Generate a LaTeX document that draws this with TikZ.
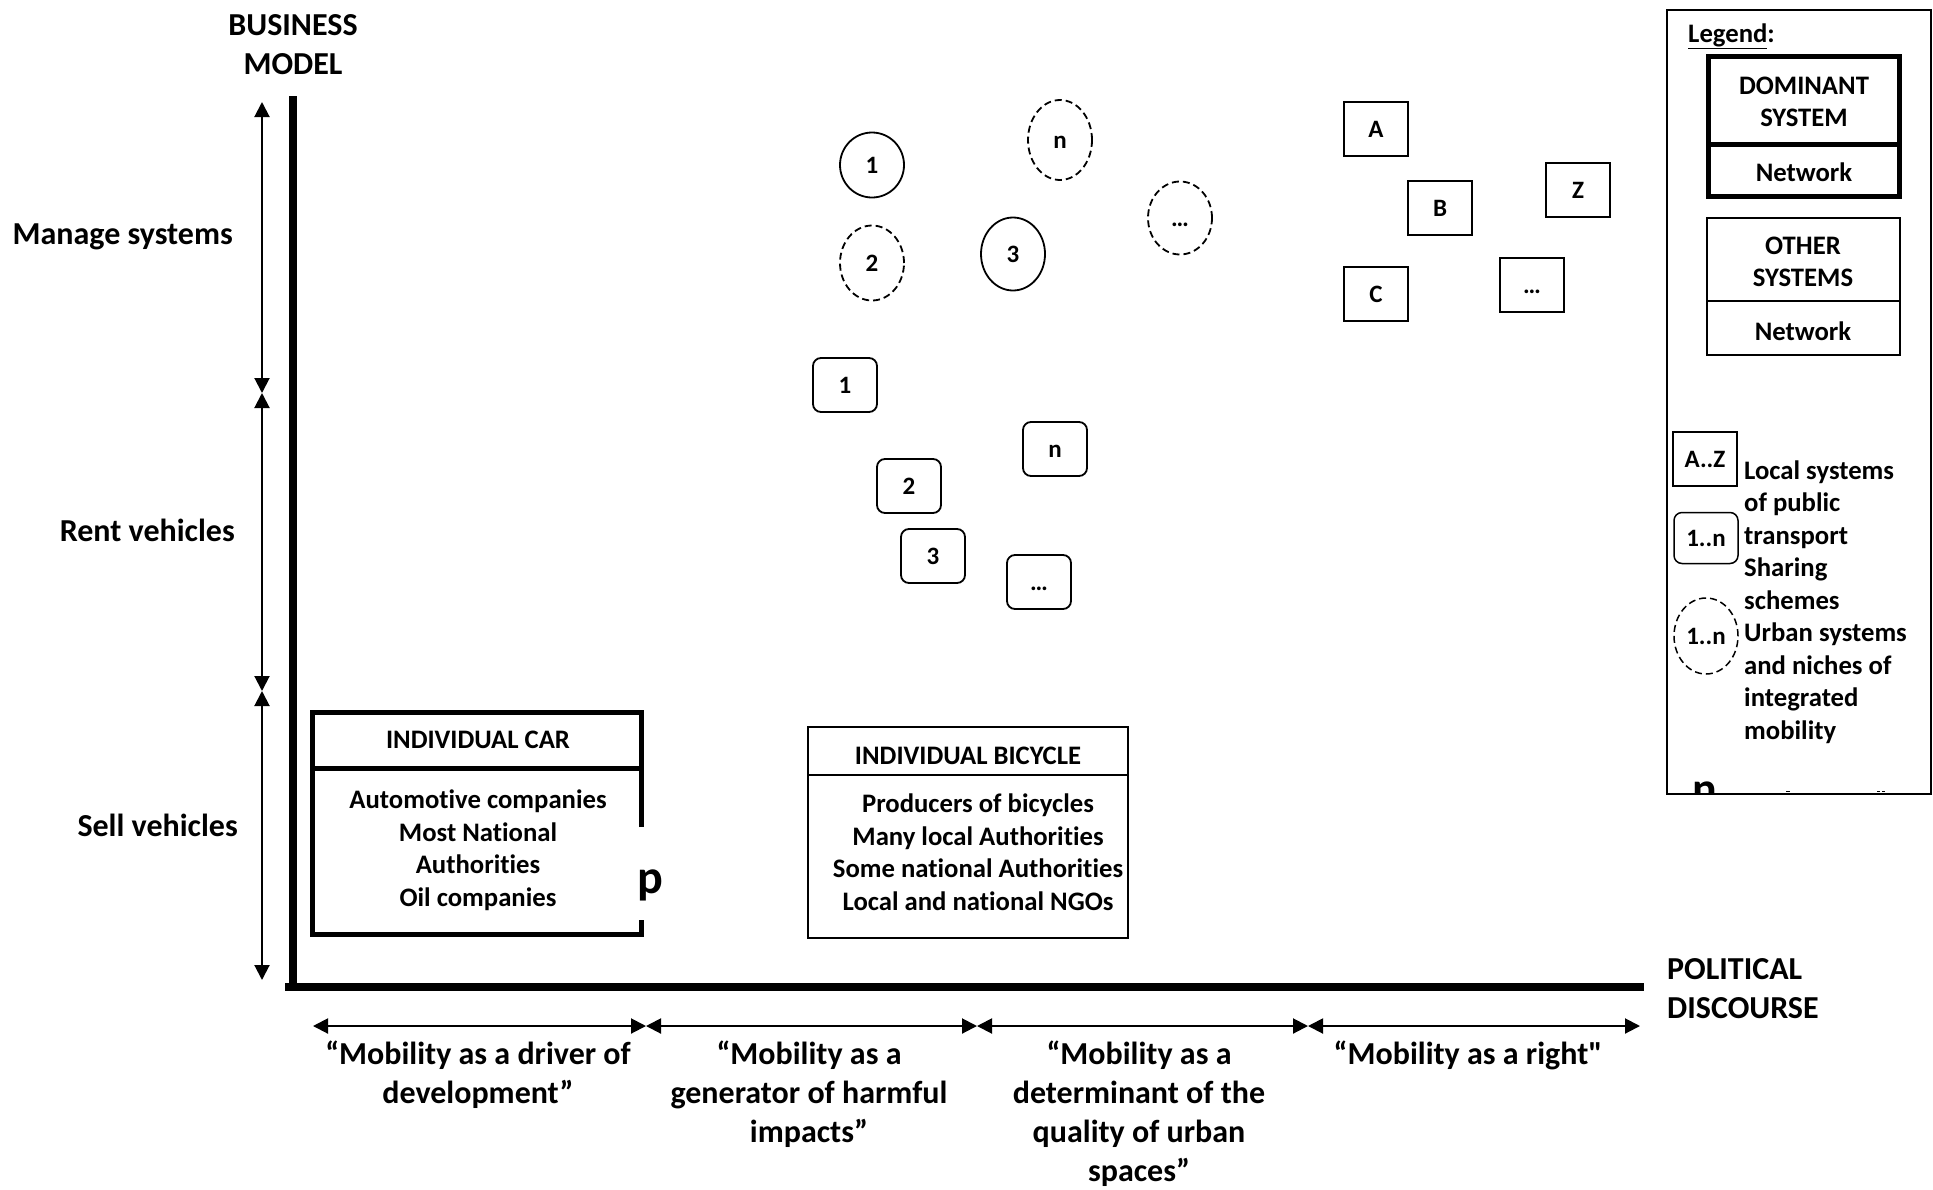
\documentclass[tikz,border=0pt]{standalone}
\usepackage{fontspec}
\newfontfamily\calfont{Carlito}[Ligatures=NoCommon]
\usetikzlibrary{arrows.meta,shapes.geometric}
\begin{document}
\begin{tikzpicture}[x=1pt,y=-1pt,
  >={Triangle[length=15pt,width=15pt]},
  lbl/.style={font=\calfont\fontsize{32}{39}\selectfont\bfseries, inner sep=0pt},
  txt/.style={font=\calfont\fontsize{26.7}{32.5}\selectfont\bfseries, inner sep=0pt, align=center},
  sym/.style={font=\calfont\fontsize{25}{30}\selectfont\bfseries, inner sep=0pt, text height=16pt, text depth=0pt},
  ell/.style={sym, ellipse, draw, line width=1.8pt, minimum width=64pt, minimum height=70pt},
  dell/.style={ell, dash pattern=on 7pt off 4pt},
  rbox/.style={sym, rectangle, rounded corners=8pt, draw, line width=1.8pt, minimum width=64pt, minimum height=54pt},
  sbox/.style={sym, rectangle, draw, line width=1.8pt, minimum width=64pt, minimum height=54pt},
  dbl/.style={line width=2pt, <->},
  thickbox/.style={line width=5pt},
  thinbox/.style={line width=1.5pt}
]
\fill[white] (0,0) rectangle (1933,1189);
\useasboundingbox (0,0) rectangle (1933,1189);

% axes
\draw[line width=8pt] (293,96) -- (293,991);
\draw[line width=8pt] (285,987) -- (1644,987);
\node[lbl, align=center] (ylab) at (293,44.5) {BUSINESS\\MODEL};
\node[lbl, align=left, anchor=west] (xlab) at (1667,989) {POLITICAL\\DISCOURSE};

% vertical range arrows
\coordinate (v0) at (262,102);
\coordinate (v1) at (262,393);
\coordinate (v2) at (262,691);
\coordinate (v3) at (262,980);
\draw[dbl] (v0) -- (v1);
\draw[dbl] (v1) -- (v2);
\draw[dbl] (v2) -- (v3);
\node[lbl, anchor=east] (manage) at (233,237) {Manage systems};
\node[lbl, anchor=east] (rent) at (235,530) {Rent vehicles};
\node[lbl, anchor=east] (sell) at (238,825) {Sell vehicles};

% horizontal range arrows
\coordinate (h0) at (313,1026);
\coordinate (h1) at (646,1026);
\coordinate (h2) at (977,1026);
\coordinate (h3) at (1308,1026);
\coordinate (h4) at (1640,1026);
\draw[dbl] (h0) -- (h1);
\draw[dbl] (h1) -- (h2);
\draw[dbl] (h2) -- (h3);
\draw[dbl] (h3) -- (h4);
\node[lbl, align=center, anchor=north] (d1) at (478,1041) {“Mobility as a driver of\\development”};
\node[lbl, align=center, anchor=north] (d2) at (809,1041) {“Mobility as a\\generator of harmful\\impacts”};
\node[lbl, align=center, anchor=north] (d3) at (1139,1041) {“Mobility as a\\determinant of the\\quality of urban\\spaces”};
\node[lbl, align=center, anchor=north] (d4) at (1468,1041) {“Mobility as a right"};

% individual car (dominant system)
\draw[thickbox] (641.5,827) -- (641.5,712.5) -- (312.5,712.5) -- (312.5,934.5) -- (641.5,934.5) -- (641.5,920);
\draw[thickbox] (312.5,768) -- (641.5,768);
\node[txt] (cartitle) at (478,740) {INDIVIDUAL CAR};
\node[txt] (carbody) at (478,850) {Automotive companies\\Most National\\Authorities\\Oil companies};
\node[font=\calfont\fontsize{48}{50}\selectfont\bfseries, inner sep=0pt, anchor=base west] (pglyph) at (637,893) {p};

% individual bicycle
\draw[thinbox] (808,727) rectangle (1128,938);
\draw[thinbox] (808,775) -- (1128,775);
\node[txt] (bictitle) at (968,756) {INDIVIDUAL BICYCLE};
\node[txt] (bicbody) at (978,852) {Producers of bicycles\\Many local Authorities\\Some national Authorities\\Local and national NGOs};

% urban systems / niches (ellipses)
\node[ell, minimum height=65pt] (c1) at (872,165) {1};
\node[dell, minimum height=75pt] (c2) at (872,263) {2};
\node[ell, minimum height=73pt] (c3) at (1013,254) {3};
\node[dell, minimum height=80pt] (cn) at (1060,140) {n};
\node[dell, minimum height=73pt] (cd) at (1180,218) {…};

% sharing schemes
\node[rbox] (s1) at (845,385) {1};
\node[rbox] (s2) at (909,486) {2};
\node[rbox] (s3) at (933,556) {3};
\node[rbox] (sn) at (1055,449) {n};
\node[rbox] (sd) at (1039,582) {…};

% public transport
\node[sbox] (pA) at (1376,129) {A};
\node[sbox] (pB) at (1440,208) {B};
\node[sbox] (pC) at (1376,294) {C};
\node[sbox] (pd) at (1532,285) {…};
\node[sbox] (pZ) at (1578,190) {Z};

% legend
\draw[line width=2pt] (1667,10) rectangle (1931,794);
\node[txt, anchor=west] (legend) at (1688,36) {\underline{Legend}:};
\draw[thickbox] (1708.5,56.5) rectangle (1899.5,196.5);
\draw[thickbox] (1708.5,144) -- (1899.5,144);
\node[txt] (dom) at (1804,102) {DOMINANT\\SYSTEM};
\node[txt] (domnet) at (1804,172) {Network};
\draw[line width=2pt] (1707,218) rectangle (1900,355);
\draw[line width=2pt] (1707,301) -- (1900,301);
\node[txt] (oth) at (1803,262) {OTHER\\SYSTEMS};
\node[txt] (othnet) at (1803,331) {Network};
\node[sbox, line width=1.5pt] (lA) at (1705,459) {A..Z};
\node[rbox, line width=1.5pt, minimum height=51pt] (l1) at (1706,538) {1..n};
\node[dell, line width=1.5pt, minimum height=76pt] (l2) at (1706,636) {1..n};
\node[txt, align=left, anchor=west] (ldesc) at (1744,602) {Local systems\\of public\\transport\\Sharing\\schemes\\Urban systems\\and niches of\\integrated\\mobility};
\begin{scope}
\clip (1668,700) rectangle (1930,793);
\node[font=\calfont\fontsize{46}{50}\selectfont\bfseries, inner sep=0pt, anchor=base west] (ncut) at (1692,804) {n};
\end{scope}
\draw[line width=1pt] (1786,791.5) -- (1790,791.5);
\draw[line width=1pt] (1877,791.5) -- (1880,791.5);
\draw[line width=1pt] (1882,791.5) -- (1885,791.5);
\end{tikzpicture}
\end{document}
